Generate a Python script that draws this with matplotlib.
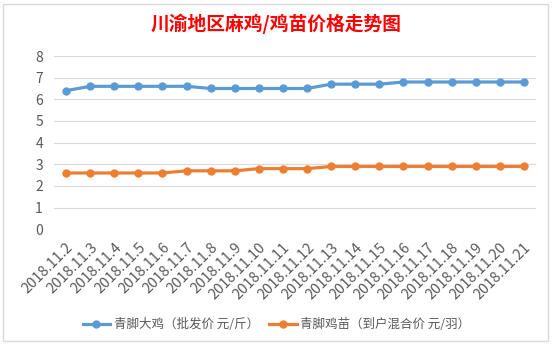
import matplotlib.pyplot as plt
from matplotlib.patches import Rectangle
import matplotlib.transforms as mtransforms

plt.rcParams['font.family'] = ['Noto Sans CJK SC', 'DejaVu Sans']

# dates on the category axis
dates = ['2018.11.2', '2018.11.3', '2018.11.4', '2018.11.5', '2018.11.6',
         '2018.11.7', '2018.11.8', '2018.11.9', '2018.11.10', '2018.11.11',
         '2018.11.12', '2018.11.13', '2018.11.14', '2018.11.15', '2018.11.16',
         '2018.11.17', '2018.11.18', '2018.11.19', '2018.11.20', '2018.11.21']

# price series
big_chicken = [6.4, 6.6, 6.6, 6.6, 6.6, 6.6, 6.5, 6.5, 6.5, 6.5,
               6.5, 6.7, 6.7, 6.7, 6.8, 6.8, 6.8, 6.8, 6.8, 6.8]
chick = [2.6, 2.6, 2.6, 2.6, 2.6, 2.7, 2.7, 2.7, 2.8, 2.8,
         2.8, 2.9, 2.9, 2.9, 2.9, 2.9, 2.9, 2.9, 2.9, 2.9]

series_names = ['青脚大鸡（批发价 元/斤）', '青脚鸡苗（到户混合价 元/羽）']
y_ticks = [0, 1, 2, 3, 4, 5, 6, 7, 8]

fig = plt.figure(figsize=(5.53, 3.45), dpi=100)
fig.patch.set_facecolor('white')

# chart area border like the excel frame
fig.patches.append(Rectangle((3 / 553, 4 / 345), 545 / 553, 337 / 345,
                             transform=fig.transFigure, fill=False,
                             edgecolor='#D9D9D9', linewidth=1))

ax = fig.add_axes([54 / 553, 1 - 229.3 / 345, (536 - 54) / 553, (229.3 - 56) / 345])

x = list(range(len(dates)))
ax.plot(x, big_chicken, color='#5B9BD5', linewidth=2.3, marker='o',
        markersize=5, label=series_names[0], zorder=3)
ax.plot(x, chick, color='#ED7D31', linewidth=2.3, marker='o',
        markersize=5, label=series_names[1], zorder=3)

ax.set_xlim(-0.5, len(dates) - 0.5)
ax.set_ylim(0, 8)
ax.set_yticks(y_ticks)
ax.set_xticks(x)
ax.set_xticklabels(dates, rotation=45, ha='right', rotation_mode='anchor')
# nudge date labels a little right like excel does
shift = mtransforms.ScaledTranslation(6 / 100, 0, fig.dpi_scale_trans)
for lbl in ax.get_xticklabels():
    lbl.set_transform(lbl.get_transform() + shift)
ax.grid(axis='y', color='#D9D9D9', linewidth=0.8)
ax.set_axisbelow(True)
for s in ax.spines.values():
    s.set_visible(False)
ax.tick_params(axis='both', length=0, colors='#595959')
ax.tick_params(axis='y', pad=8, labelsize=10)
ax.tick_params(axis='x', pad=8, labelsize=10.5)

fig.text(0.5, 1 - 24 / 345, '川渝地区麻鸡/鸡苗价格走势图', color='#FF0000',
         fontsize=13.5, fontweight='bold', ha='center', va='center')

fig.legend(loc='center', bbox_to_anchor=(0.5, 1 - 325 / 345), ncol=2,
           frameon=False, fontsize=9, labelcolor='#595959',
           handlelength=2.2, columnspacing=0.8, handletextpad=0.3)

fig.savefig('out.png', dpi=100)
